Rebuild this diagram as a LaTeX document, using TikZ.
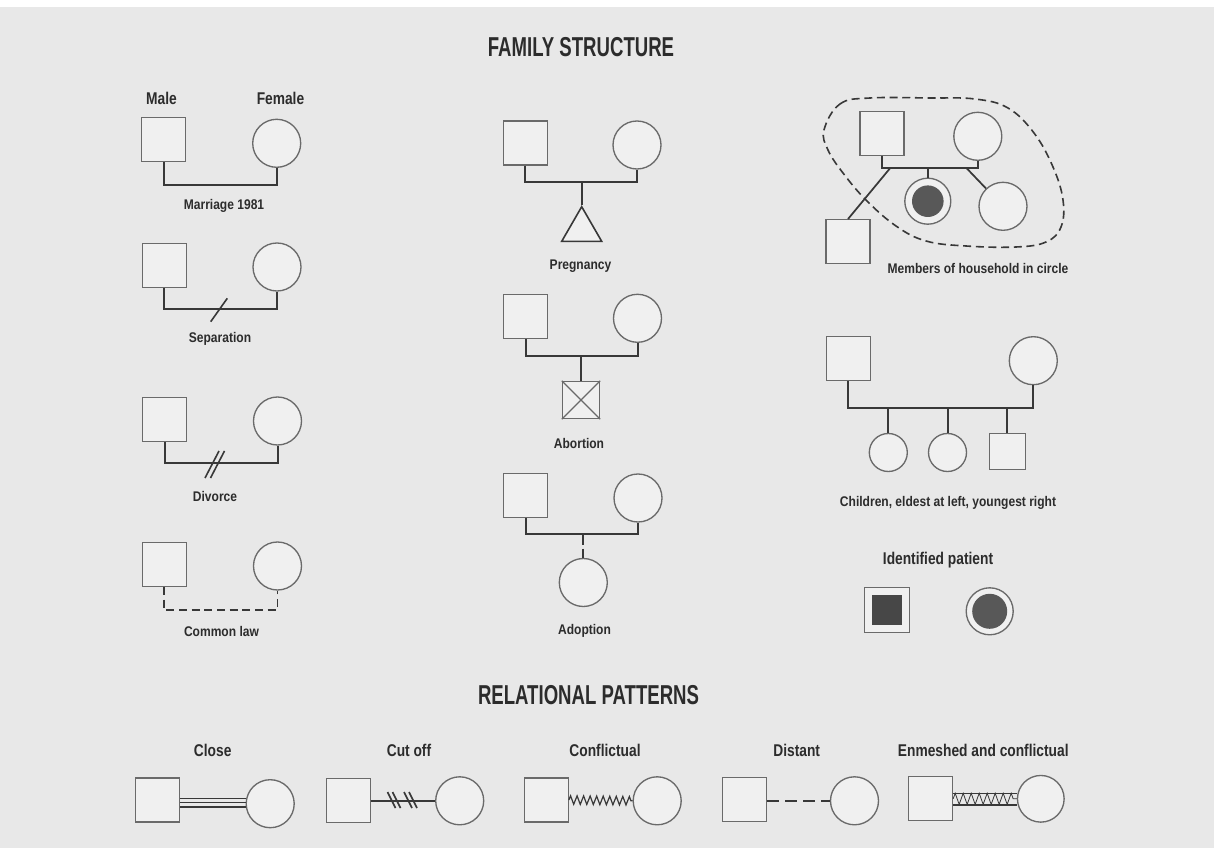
\documentclass[tikz,border=0pt]{standalone}
\usepackage{fontspec}
\setmainfont{Liberation Sans Bold}[FakeStretch=0.86]
\newfontfamily\medfont{Liberation Sans Bold}[FakeStretch=0.81]
\newfontfamily\headfont{Liberation Sans Bold}[FakeStretch=0.68]
\usetikzlibrary{shapes.geometric,decorations.pathmorphing,calc}
\definecolor{bg}{HTML}{E8E8E8}
\definecolor{shapefill}{HTML}{F0F0F0}
\definecolor{shapeline}{HTML}{6A6A6A}
\definecolor{ink}{HTML}{383838}
\definecolor{txt}{HTML}{2C2C2C}
\definecolor{ipsq}{HTML}{474747}
\definecolor{ipci}{HTML}{585858}
\begin{document}
\begin{tikzpicture}[x=0.75pt,y=-0.75pt,
  male/.style={draw=shapeline,fill=shapefill,line width=1pt,rectangle,inner sep=0pt,minimum size=33pt},
  female/.style={draw=shapeline,fill=shapefill,line width=1pt,circle,inner sep=0pt,minimum size=36pt},
  rel/.style={draw=ink,line width=1.5pt},
  thinrel/.style={draw=ink,line width=0.9pt},
  lbl/.style={text=txt,inner sep=0pt,font=\fontsize{10.5}{12}\selectfont},
  mlbl/.style={text=txt,inner sep=0pt,font=\medfont\fontsize{12.75}{14}\selectfont},
  head/.style={text=txt,inner sep=0pt,font=\headfont\fontsize{20.5}{22}\selectfont},
  ipfill/.style={draw=none,inner sep=0pt}
]
\useasboundingbox (0,0) rectangle (1214,848);
\fill[bg] (0,0) rectangle (1214,848);
\fill[white] (0,0) rectangle (1214,7);

% headings
\node[head] (h1) at (581,47) {FAMILY STRUCTURE};
\node[head] (h2) at (588.5,695) {RELATIONAL PATTERNS};

% ---------- column 1 ----------
\node[mlbl] (lmale) at (161.5,98) {Male};
\node[mlbl] (lfemale) at (280.5,98) {Female};
\node[male] (m1) at (163.7,139.7) {};
\node[female] (f1) at (276.7,143.3) {};
\coordinate (L1) at (0,185);
\draw[rel] (m1.south) -- (m1.south |- L1) -- (f1.south |- L1) -- (f1.south);
\node[lbl] (t1) at (224,206) {Marriage 1981};

\node[male] (m2) at (164.2,265.3) {};
\node[female] (f2) at (277,267) {};
\coordinate (L2) at (0,309.3);
\draw[rel] (m2.south) -- (m2.south |- L2) -- (f2.south |- L2) -- (f2.south);
\coordinate (s2a) at (227.3,298.3);
\coordinate (s2b) at (210.7,321.7);
\draw[thinrel,line width=1.2pt] (s2a) -- (s2b);
\node[lbl] (t2) at (220,339) {Separation};

\node[male] (m3) at (164.7,419.2) {};
\node[female] (f3) at (277.5,421) {};
\coordinate (L3) at (0,463.3);
\draw[rel] (m3.south) -- (m3.south |- L3) -- (f3.south |- L3) -- (f3.south);
\coordinate (d3a) at (219,451);
\coordinate (d3b) at (205,478);
\coordinate (d3c) at (224.5,451);
\coordinate (d3d) at (210.5,478);
\draw[thinrel,line width=1.2pt] (d3a) -- (d3b) (d3c) -- (d3d);
\node[lbl] (t3) at (215,496) {Divorce};

\node[male] (m4) at (164.2,564.2) {};
\node[female] (f4) at (277.5,566) {};
\coordinate (L4) at (0,610);
\draw[rel,line width=1.3pt,dash pattern=on 6pt off 3.5pt] (m4.south) -- (m4.south |- L4) -- (f4.south |- L4) -- (f4.south);
\node[lbl] (t4) at (221.5,631) {Common law};

% ---------- column 2 ----------
\node[male] (m5) at (525.2,142.9) {};
\node[female] (f5) at (637,145) {};
\coordinate (L5) at (0,181.7);
\draw[rel] (m5.south) -- (m5.south |- L5) -- (f5.south |- L5) -- (f5.south);
\node[draw=ink,line width=1.2pt,fill=shapefill,regular polygon,regular polygon sides=3,minimum size=34.6pt,inner sep=0pt] (tri) at (581.7,229.8) {};
\draw[rel] (tri.corner 1 |- L5) -- (tri.corner 1);
\node[lbl] (t5) at (580.5,266) {Pregnancy};

\node[male] (m6) at (525.8,316.2) {};
\node[female] (f6) at (637.5,318.3) {};
\coordinate (L6) at (0,356);
\draw[rel] (m6.south) -- (m6.south |- L6) -- (f6.south |- L6) -- (f6.south);
\node[male,minimum size=27.75pt] (ab) at (581,400) {};
\draw[draw=shapeline,line width=0.9pt] (ab.north west) -- (ab.south east) (ab.north east) -- (ab.south west);
\draw[rel] (ab.north |- L6) -- (ab.north);
\node[lbl] (t6) at (579,443) {Abortion};

\node[male] (m7) at (525.8,495.5) {};
\node[female] (f7) at (638,498) {};
\coordinate (L7) at (0,534);
\draw[rel] (m7.south) -- (m7.south |- L7) -- (f7.south |- L7) -- (f7.south);
\node[female] (ad) at (583.3,582.5) {};
\draw[rel,dash pattern=on 8pt off 3pt] (ad.north |- L7) -- (ad.north);
\node[lbl] (t7) at (584.5,631) {Adoption};

% ---------- column 3: household ----------
\node[male] (hm) at (882,133.7) {};
\node[female] (hf) at (977.8,136.3) {};
\coordinate (LH) at (0,168.3);
\draw[rel,line width=1.3pt] (hm.south) -- (hm.south |- LH) -- (hf.south |- LH) -- (hf.south);
\node[female,minimum size=34.5pt] (hp) at (927.8,201.2) {};
\node[ipfill,circle,fill=ipci,minimum size=23.7pt] (hpi) at (hp.center) {};
\draw[rel,line width=1.3pt] (hp.north |- LH) -- (hp.north);
\node[female] (hc) at (1003,206.3) {};
\coordinate (hcs) at (966.7,168.3);
\draw[rel,line width=1.3pt] (hcs) -- (hc);
\node[male] (hs) at (848,241.7) {};
\coordinate (hss) at (890,168.3);
\draw[rel,line width=1.3pt] (hss) -- (hs.north);
\draw[draw=ink,line width=1.2pt,dash pattern=on 6pt off 3.5pt] plot[smooth cycle,tension=0.65] coordinates {(824,130) (840,104) (870,98) (930,98) (975,99) (1008,108) (1034,133) (1053,167) (1063,200) (1061,227) (1046,242) (1016,247) (966,246) (926,241) (896,226) (866,200) (843,173) (828,150)};
\node[lbl] (th) at (978,268) {Members of household in circle};

% ---------- children ----------
\node[male] (cm) at (848.3,358.3) {};
\node[female] (cf) at (1033.3,360.7) {};
\coordinate (LC) at (0,408.3);
\draw[rel] (cm.south) -- (cm.south |- LC) -- (cf.south |- LC) -- (cf.south);
\node[female,minimum size=28.5pt] (c1) at (888.3,452.5) {};
\node[female,minimum size=28.5pt] (c2) at (947.5,452.5) {};
\node[male,minimum size=27pt] (c3) at (1007.3,451.7) {};
\draw[rel] (c1.north |- LC) -- (c1.north);
\draw[rel] (c2.north |- LC) -- (c2.north);
\draw[rel] (c3.north |- LC) -- (c3.north);
\node[lbl] (tc) at (948,503) {Children, eldest at left, youngest right};

% ---------- identified patient ----------
\node[mlbl] (tip) at (938,560) {Identified patient};
\node[male,minimum size=33.75pt] (ips) at (886.7,610) {};
\node[ipfill,rectangle,fill=ipsq,minimum size=22.5pt] (ipsi) at (ips.center) {};
\node[female,minimum size=35.25pt] (ipc) at (989.7,611.3) {};
\node[ipfill,circle,fill=ipci,minimum size=26.25pt] (ipci) at (ipc.center) {};

% ---------- relational patterns ----------
\node[mlbl] (tclose) at (212.7,750) {Close};
\node[male] (r1m) at (157.8,800) {};
\node[female] (r1f) at (270.2,803.7) {};
\coordinate (k1) at (0,798.3);
\coordinate (k2) at (0,802.7);
\coordinate (k3) at (0,806.9);
\draw[thinrel,line width=1pt] (r1m.east |- k1) -- (r1f.west |- k1);
\draw[thinrel,line width=1pt] (r1m.east |- k2) -- (r1f.west |- k2);
\draw[thinrel,line width=1pt] (r1m.east |- k3) -- (r1f.west |- k3);

\node[mlbl] (tcut) at (409,750) {Cut off};
\node[male] (r2m) at (348.3,800.5) {};
\node[female] (r2f) at (459.7,800.8) {};
\draw[thinrel,line width=1.3pt] (r2m.east |- r2f.west) -- (r2f.west);
\foreach \xx [count=\i] in {391.5,396.5,408,413}{
  \coordinate (cu\i a) at (\xx-4,792);
  \coordinate (cu\i b) at (\xx+4,808);
  \draw[thinrel,line width=1.2pt] (cu\i a) -- (cu\i b);
}

\node[mlbl] (tconf) at (605,750) {Conflictual};
\node[male] (r3m) at (546.2,800) {};
\node[female] (r3f) at (657.2,800.8) {};
\draw[thinrel,line width=0.9pt,decorate,decoration={zigzag,segment length=4.9pt,amplitude=3.2pt}] (r3m.east) -- (r3f.west);

\node[mlbl] (tdist) at (796.7,750) {Distant};
\node[male] (r4m) at (744.7,799.7) {};
\node[female] (r4f) at (854.5,800.8) {};
\draw[rel,line width=1.3pt,dash pattern=on 8.5pt off 5pt] (r4m.east |- r4f.west) -- (r4f.west);

\node[mlbl] (tenm) at (983.3,750) {Enmeshed and conflictual};
\node[male] (r5m) at (930.5,798.8) {};
\node[female,minimum size=35pt] (r5f) at (1040.8,798.8) {};
\coordinate (e1) at (0,793.3);
\coordinate (e2) at (0,805);
\draw[draw=ink,line width=0.9pt] (r5m.east |- e1) -- (r5f.west |- e1);
\draw[draw=ink,line width=0.9pt] (r5m.east |- e2) -- (r5f.west |- e2);
\draw[draw=ink,line width=0.6pt,decorate,decoration={zigzag,segment length=6pt,amplitude=4.2pt}] (r5m.east) -- (r5f.west);
\end{tikzpicture}
\end{document}
